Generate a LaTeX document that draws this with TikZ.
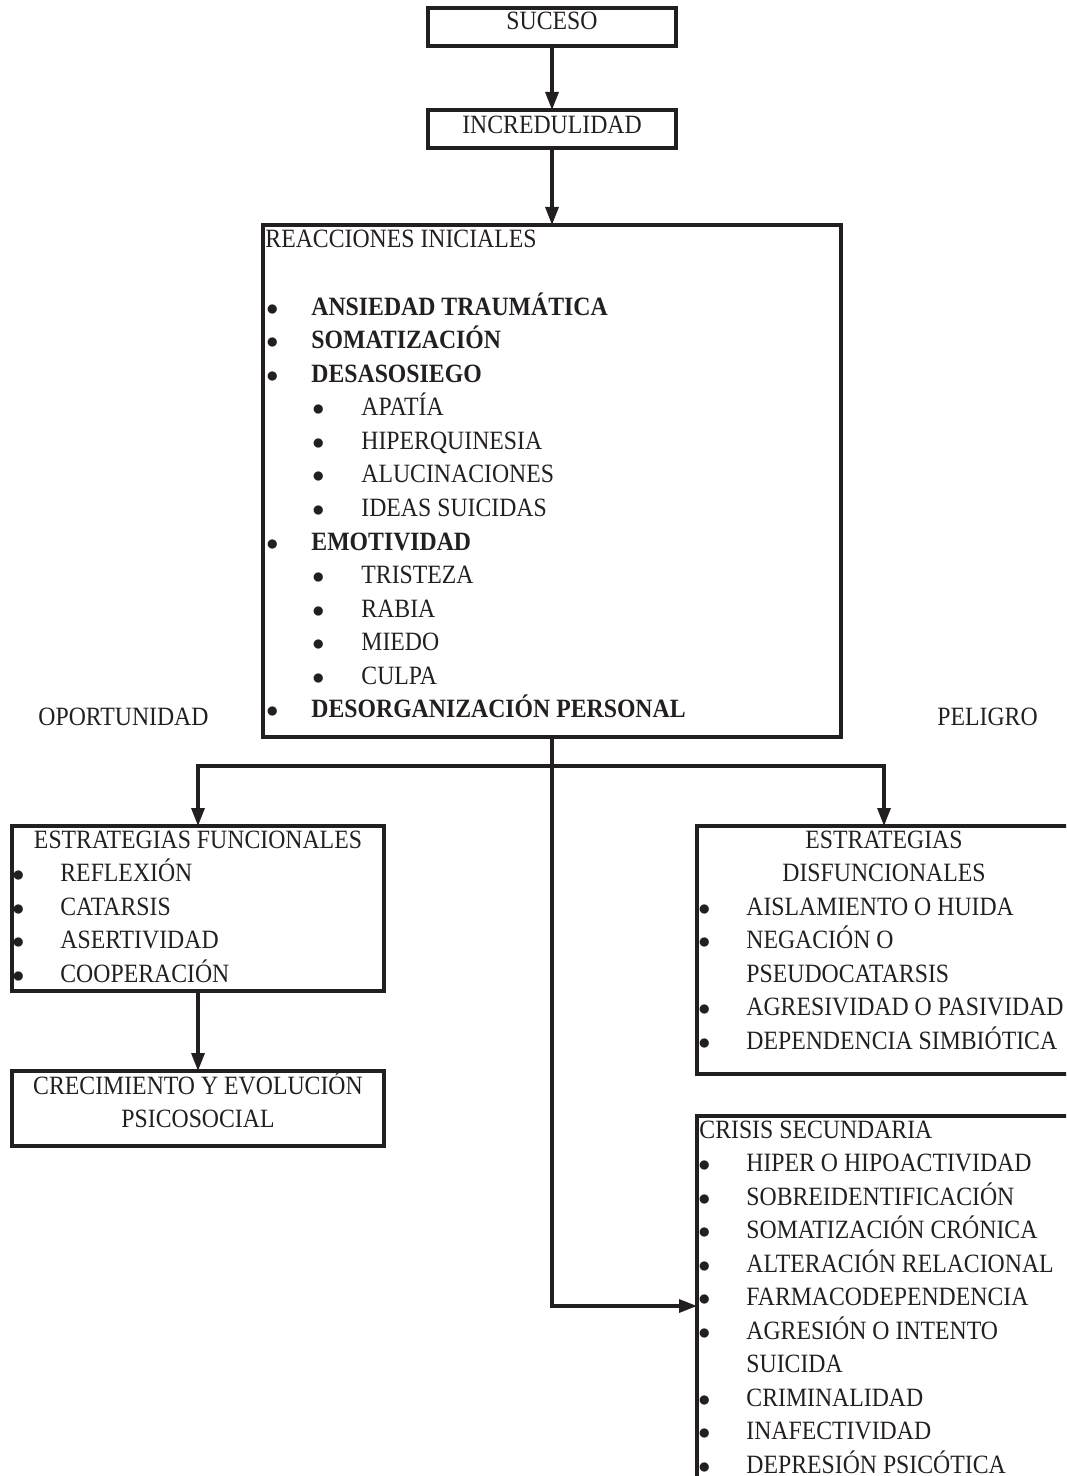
\documentclass[tikz,border=0pt]{standalone}
\usepackage{fontspec}
\setmainfont{Liberation Serif}[FakeStretch=0.9]
\usetikzlibrary{arrows.meta, positioning, calc}
\definecolor{crink}{HTML}{231F20}
\newcommand\crfont{\fontsize{13.2}{16}\selectfont}
\newcommand\crdot{$\bullet$}
\tikzset{
  crbox/.style  = {draw=crink, line width=1.6pt, inner sep=0pt, outer sep=0pt,
                   anchor=north west},
  crtxt/.style  = {text=crink, font=\crfont, inner sep=0pt, anchor=base west},
  crbold/.style = {crtxt, font=\crfont\bfseries},
  crmid/.style  = {crtxt, anchor=base},
  crbul/.style  = {crtxt},
  crline/.style = {draw=crink, line width=1.6pt},
  flow/.style   = {crline, -{Triangle[length=9pt, width=6.5pt]}},
}

\begin{document}
\begin{tikzpicture}[x=0.5pt, y=-0.5pt]
  \useasboundingbox (0,0) rectangle (1066,1476);
  \clip (0,0) rectangle (1066,1476);
  % boxes
  \node[crbox, minimum width=124pt, minimum height=19pt] (suceso) at (428,8) {};
  \node[crbox, minimum width=124pt, minimum height=19pt] (incred) at (428,110) {};
  \node[crbox, minimum width=289pt, minimum height=256pt] (reacc) at (263,225) {};
  \node[crbox, minimum width=186pt, minimum height=82.5pt] (func) at (12,826) {};
  \node[crbox, minimum width=186pt, minimum height=37.5pt] (crec) at (12,1071) {};
  \node[crbox, minimum width=187pt, minimum height=124pt] (disf) at (697,826) {};
  \node[crbox, minimum width=187pt, minimum height=220pt] (crisis) at (697,1116) {};

  % titles
  \node[crmid] (tsuceso) at ($(suceso.north)+(0,22)$) {SUCESO};
  \node[crmid] (tincred) at ($(incred.north)+(0,24)$) {INCREDULIDAD};
  \node[crtxt] (treacc) at (265,248) {REACCIONES INICIALES};
  \node[crtxt] (opor) at (38,725) {OPORTUNIDAD};
  \node[crtxt] (peli) at (937,725) {PELIGRO};

  % reacciones iniciales
  \foreach \k/\txt in {0/ANSIEDAD TRAUMÁTICA, 1/SOMATIZACIÓN, 2/DESASOSIEGO,
                       7/EMOTIVIDAD, 12/DESORGANIZACIÓN PERSONAL} {
    \node[crbul] (rb\k) at (266,{315+33.58*\k}) {\crdot};
    \node[crbold] (rt\k) at (311,{315+33.58*\k}) {\txt};
  }
  \foreach \k/\txt in {3/APATÍA, 4/HIPERQUINESIA, 5/ALUCINACIONES, 6/IDEAS SUICIDAS,
                       8/TRISTEZA, 9/RABIA, 10/MIEDO, 11/CULPA} {
    \node[crbul] (rsb\k) at (312,{315+33.58*\k}) {\crdot};
    \node[crtxt] (rst\k) at (361,{315+33.58*\k}) {\txt};
  }

  % estrategias funcionales
  \node[crmid] (tfunc) at (198,848) {ESTRATEGIAS FUNCIONALES};
  \foreach \txt [count=\k] in {REFLEXIÓN, CATARSIS, ASERTIVIDAD, COOPERACIÓN} {
    \node[crbul] (fb\k) at (12,{848+33.58*\k}) {\crdot};
    \node[crtxt] (ft\k) at (60,{848+33.58*\k}) {\txt};
  }
  \node[crmid] (tcrec1) at (198,1094) {CRECIMIENTO Y EVOLUCIÓN};
  \node[crmid] (tcrec2) at (198,1127.6) {PSICOSOCIAL};

  % estrategias disfuncionales
  \node[crmid] (tdisf1) at (884,848) {ESTRATEGIAS};
  \node[crmid] (tdisf2) at (884,881.6) {DISFUNCIONALES};
  \foreach \k/\txt in {2/AISLAMIENTO O HUIDA, 3/NEGACIÓN O,
                       5/AGRESIVIDAD O PASIVIDAD, 6/DEPENDENCIA SIMBIÓTICA} {
    \node[crbul] (db\k) at (698,{848+33.58*\k}) {\crdot};
    \node[crtxt] (dt\k) at (746,{848+33.58*\k}) {\txt};
  }
  \node[crtxt] (dt4) at (746,{848+33.58*4}) {PSEUDOCATARSIS};

  % crisis secundaria
  \node[crtxt] (tcrisis) at (699,1138) {CRISIS SECUNDARIA};
  \foreach \k/\txt in {1/HIPER O HIPOACTIVIDAD, 2/SOBREIDENTIFICACIÓN,
                       3/SOMATIZACIÓN CRÓNICA, 4/ALTERACIÓN RELACIONAL,
                       5/FARMACODEPENDENCIA, 6/AGRESIÓN O INTENTO,
                       8/CRIMINALIDAD, 9/INAFECTIVIDAD, 10/DEPRESIÓN PSICÓTICA} {
    \node[crbul] (cb\k) at (698,{1138+33.5*\k}) {\crdot};
    \node[crtxt] (ct\k) at (746,{1138+33.5*\k}) {\txt};
  }
  \node[crtxt] (ct7) at (746,{1138+33.5*7}) {SUICIDA};

  % connectors
  \draw[flow] (suceso) -- (incred);
  \draw[flow] (incred) -- (reacc);
  \coordinate (split) at ($(reacc.south)+(0,29)$);
  \coordinate (crisisin) at ($(crisis.north west)+(0,190)$);
  \draw[flow] (split) -| (func.north);
  \draw[flow] (split) -| (disf.north);
  \draw[flow] (reacc.south) |- (crisisin);
  \draw[flow] (func) -- (crec);
\end{tikzpicture}
\end{document}
